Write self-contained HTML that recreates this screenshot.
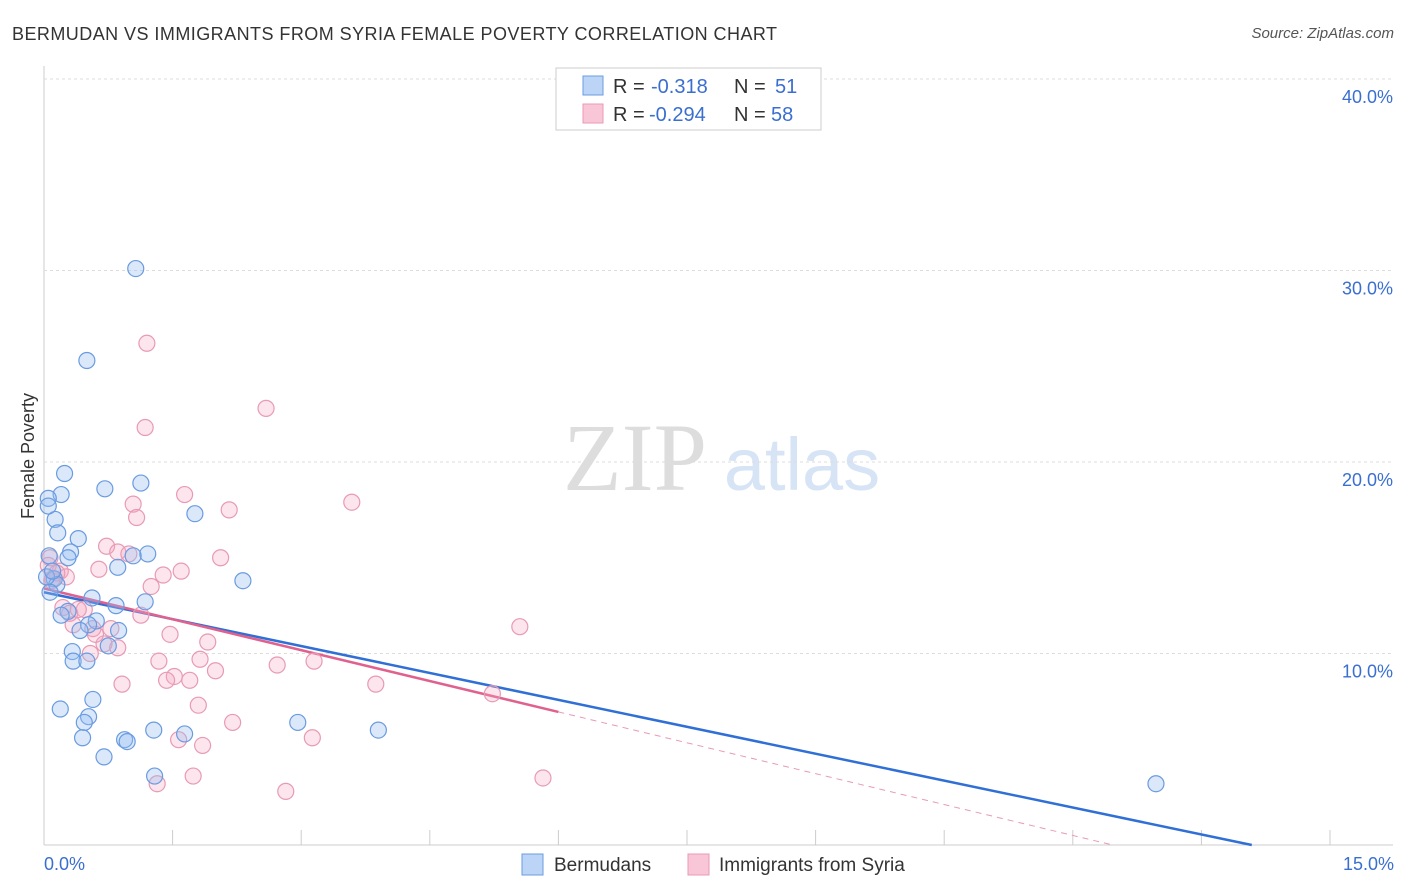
<!DOCTYPE html>
<html><head><meta charset="utf-8">
<style>
body{margin:0;background:#fff;font-family:"Liberation Sans",sans-serif;}
svg{display:block}
</style></head>
<body>
<svg id="chart" width="1406" height="892">
<text x="12" y="40" font-size="18" letter-spacing="0.45" fill="#333">BERMUDAN VS IMMIGRANTS FROM SYRIA FEMALE POVERTY CORRELATION CHART</text>
<text x="1394" y="38" font-size="15" fill="#555" font-style="italic" text-anchor="end">Source: ZipAtlas.com</text>
<text x="34" y="456" font-size="18" fill="#333" transform="rotate(-90 34 456)" text-anchor="middle">Female Poverty</text>
<g>
<text x="635" y="490" font-size="96" fill="#ddd" font-family="Liberation Serif,serif" text-anchor="middle">ZIP</text>
<text x="802" y="490" font-size="74" fill="#d6e4f5" text-anchor="middle">atlas</text>
</g>
<g id="grid"></g>
<g id="lines"></g>
<g id="points"></g>
<g>
<rect x="556" y="68" width="265" height="62" fill="#fff" stroke="#ccc"/>
<rect x="583" y="76" width="20" height="19" fill="#bcd4f5" stroke="#6a9be0"/>
<rect x="583" y="104" width="20" height="19" fill="#f8c6d6" stroke="#e89ab4"/>
<text x="613" y="93" font-size="20" fill="#333">R = <tspan x="651" fill="#3a6fd0">-0.318</tspan><tspan x="734">N = </tspan><tspan x="775" fill="#3a6fd0">51</tspan></text>
<text x="613" y="121" font-size="20" fill="#333">R = <tspan x="649" fill="#3a6fd0">-0.294</tspan><tspan x="734">N = </tspan><tspan x="771" fill="#3a6fd0">58</tspan></text>
</g>
<g>
<rect x="522" y="854" width="21" height="21" fill="#bcd4f5" stroke="#6a9be0"/>
<text x="554" y="871" font-size="19" fill="#333">Bermudans</text>
<rect x="688" y="854" width="21" height="21" fill="#f8c6d6" stroke="#e89ab4"/>
<text x="719" y="871" font-size="19" fill="#333">Immigrants from Syria</text>
</g>
<text x="44" y="870" font-size="18" fill="#3a6fd0">0.0%</text>
<text x="1394" y="870" font-size="18" fill="#3a6fd0" text-anchor="end">15.0%</text>
</svg>
<script>
const yTicks=[10,20,30,40];
const yTickLabels=["10.0%","20.0%","30.0%","40.0%"];
const blueX=[1.07,0.50,0.24,0.20,0.71,1.13,0.05,0.13,0.16,0.40,0.31,0.28,1.21,1.04,1.76,0.86,2.32,0.06,0.12,0.15,0.07,0.56,0.84,1.18,0.28,0.61,0.52,0.42,0.87,0.75,0.33,0.34,0.50,0.57,0.19,0.52,0.47,2.96,1.28,1.64,3.90,0.45,0.94,0.97,0.70,1.29,12.97,0.03,0.05,0.10,0.20];
const blueY=[30.1,25.3,19.4,18.3,18.6,18.9,18.1,17.0,16.3,16.0,15.3,15.0,15.2,15.1,17.3,14.5,13.8,15.1,13.9,13.6,13.2,12.9,12.5,12.7,12.2,11.7,11.5,11.2,11.2,10.4,10.1,9.6,9.6,7.6,7.1,6.7,6.4,6.4,6.0,5.8,6.0,5.6,5.5,5.4,4.6,3.6,3.2,14.0,17.7,14.3,12.0];
const pinkX=[1.20,2.59,1.18,1.64,3.59,1.04,1.08,2.16,0.73,0.86,0.99,0.07,2.06,0.64,1.60,1.39,0.19,0.26,0.09,1.25,0.22,0.47,1.13,0.34,0.57,0.78,5.55,1.47,1.91,0.70,0.86,0.54,1.34,1.82,2.72,3.15,2.0,1.52,1.43,1.70,0.91,3.87,5.23,1.80,2.20,1.57,3.13,1.85,1.74,1.32,5.82,2.82,0.05,0.15,0.30,0.40,0.10,0.60];
const pinkY=[26.2,22.8,21.8,18.3,17.9,17.8,17.1,17.5,15.6,15.3,15.2,15.0,15.0,14.4,14.3,14.1,14.3,14.0,13.8,13.5,12.4,12.3,12.0,11.5,11.3,11.3,11.4,11.0,10.6,10.5,10.3,10.0,9.6,9.7,9.4,9.6,9.1,8.8,8.6,8.6,8.4,8.4,7.9,7.3,6.4,5.5,5.6,5.2,3.6,3.2,3.5,2.8,14.6,14.2,12.1,12.3,13.9,11.0];
const blueLine=[13.2,-0.937];
const pinkLine=[13.4,-1.075,6.0];
const sx=v=>44+v/15*1286, sy=v=>845-v/10*191.5;
const NS="http://www.w3.org/2000/svg";
function mk(t,a,p){const e=document.createElementNS(NS,t);for(const k in a)e.setAttribute(k,a[k]);p.appendChild(e);return e;}
const grid=document.getElementById('grid');
const ax=mk('line',{x1:44,y1:66,x2:44,y2:845,stroke:'#ccc'},grid);


const bx=mk('line',{x1:44,y1:845,x2:1393,y2:845,stroke:'#ccc'},grid);


for(let i=1;i<=10;i++){const t=mk('line',{x1:sx(i*1.5),y1:830,x2:sx(i*1.5),y2:845,stroke:'#ccc'},grid);

}
yTicks.forEach((v,i)=>{const g=mk('line',{x1:44,y1:sy(v),x2:1393,y2:sy(v),stroke:'#ddd','stroke-dasharray':'3,3'},grid);


const t=mk('text',{x:1393,y:sy(v)+24,'font-size':18,fill:'#3a6fd0','text-anchor':'end'},grid);t.textContent=yTickLabels[i];

});
const lines=document.getElementById('lines');
const bxEnd=-blueLine[0]/blueLine[1];
const bl=mk('line',{x1:sx(0),y1:sy(blueLine[0]),x2:sx(bxEnd),y2:sy(0),stroke:'#2f6fd6','stroke-width':2.5},lines);


const pe=pinkLine[2], pz=-pinkLine[0]/pinkLine[1];
const pl=mk('line',{x1:sx(0),y1:sy(pinkLine[0]),x2:sx(pe),y2:sy(pinkLine[0]+pinkLine[1]*pe),stroke:'#e0618e','stroke-width':2.5},lines);


const pd=mk('line',{x1:sx(pe),y1:sy(pinkLine[0]+pinkLine[1]*pe),x2:sx(pz),y2:sy(0),stroke:'#e89ab4','stroke-width':1,'stroke-dasharray':'6,5'},lines);


const pts=document.getElementById('points');
pinkX.forEach((x,i)=>{const c=mk('circle',{cx:sx(x),cy:sy(pinkY[i]),r:8,fill:'rgba(245,170,195,0.3)',stroke:'#e89ab4','stroke-width':1.2},pts);

});
blueX.forEach((x,i)=>{const c=mk('circle',{cx:sx(x),cy:sy(blueY[i]),r:8,fill:'rgba(150,190,240,0.35)',stroke:'#6a9be0','stroke-width':1.2},pts);

});
</script>
</body></html>
